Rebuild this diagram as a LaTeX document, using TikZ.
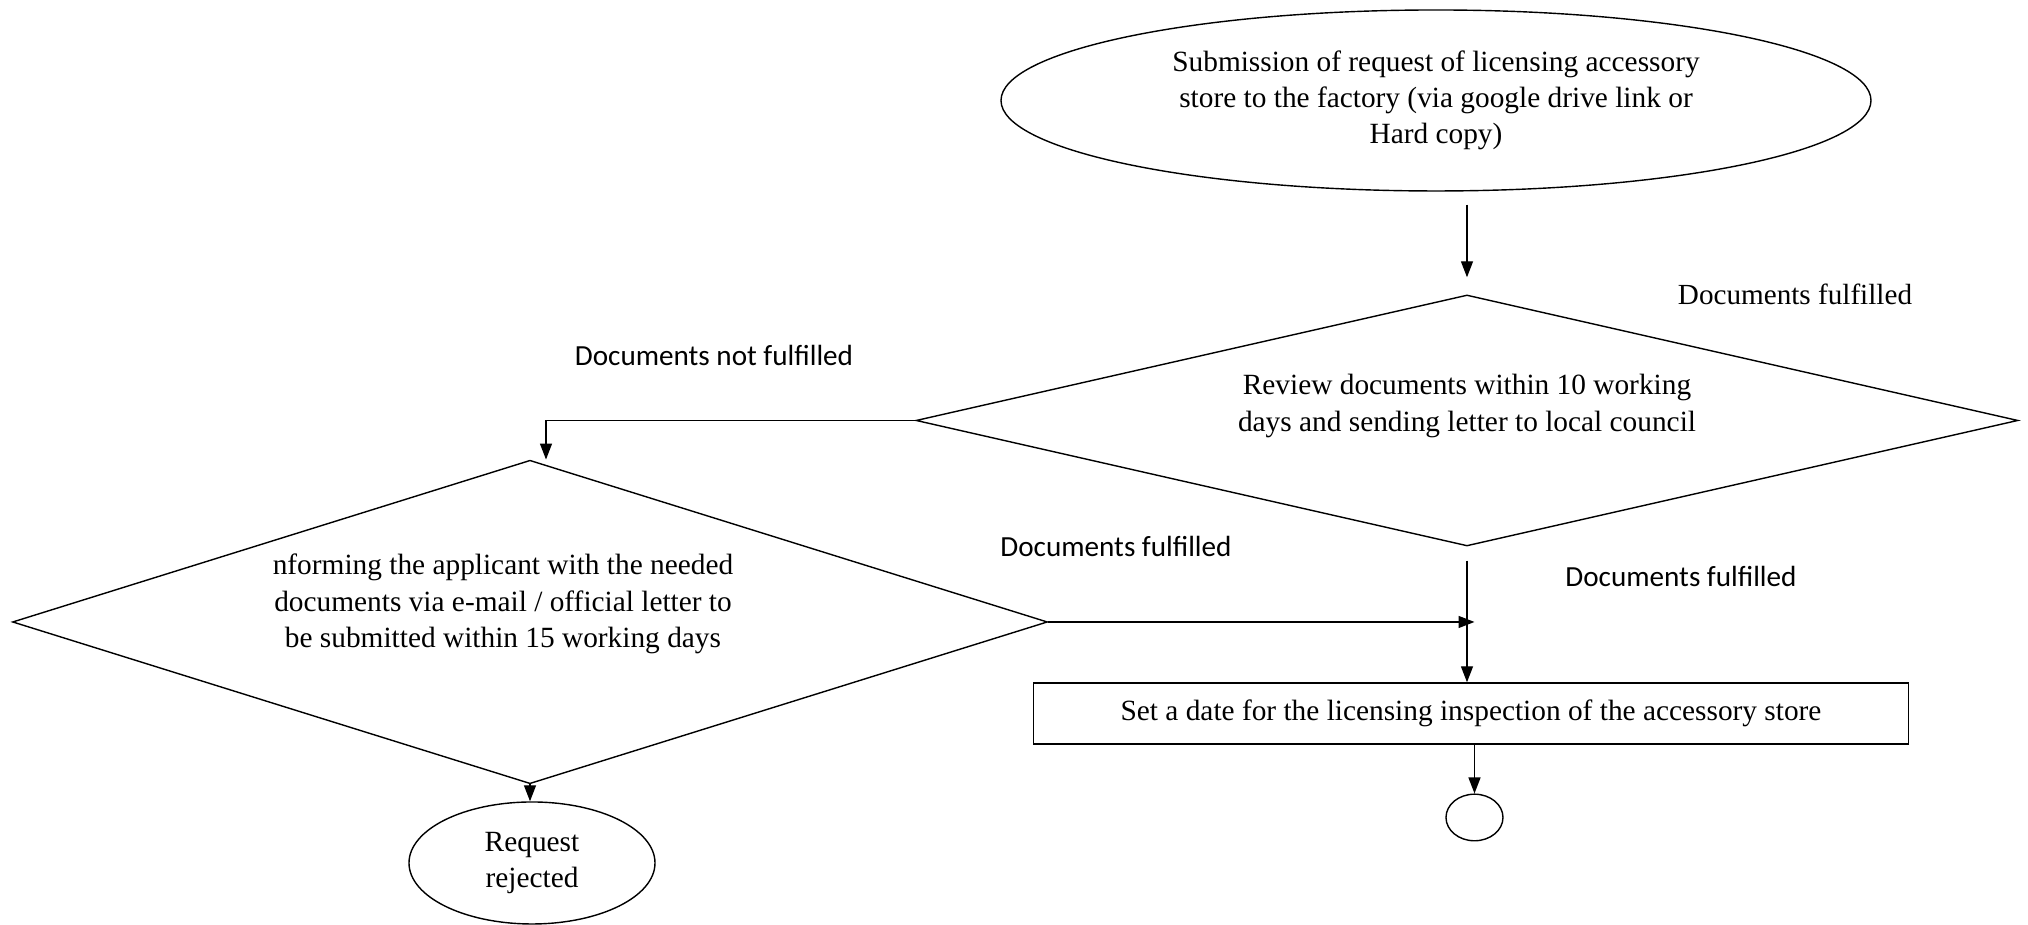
\documentclass[tikz,border=0pt]{standalone}
\usepackage{fontspec}
\setmainfont{Liberation Serif}
\newfontfamily\labelfont{Carlito}
\usetikzlibrary{shapes.geometric}
\usetikzlibrary{arrows.meta}
\tikzset{>={Triangle[length=1.6mm,width=1.2mm]}}
\tikzset{
	% shapes
	startstop/.style={draw,thin,ellipse,inner sep=0pt,align=center,font=\fontsize{8.35}{10.3}\selectfont},
	decision/.style={draw,thin,diamond,inner sep=0pt},
	process/.style={draw,thin,rectangle,inner sep=0pt,align=center,font=\fontsize{8.35}{10.3}\selectfont},
	% texts
	dtext/.style={align=center,font=\fontsize{8.35}{10.3}\selectfont},
	serifchoice/.style={font=\fontsize{8.3}{9.5}\selectfont},
	choice/.style={font=\labelfont\fontsize{8.3}{9.5}\selectfont},
}

\begin{document}
\begin{tikzpicture}
	\useasboundingbox (0,0) rectangle (20.28,9.25);
	
	\node[startstop,minimum width=8.7cm,minimum height=1.81cm] (submit) at (14.36,8.245) {Submission of request of licensing accessory\\store to the factory (via google drive link or\\Hard copy)};
	
	\node[decision,minimum width=11.02cm,minimum height=2.51cm] (review) at (14.67,5.045) {};
	\node[dtext] (reviewtxt) at (14.67,5.19) {Review documents within 10 working\\days and sending letter to local council};
	
	\node[decision,minimum width=10.35cm,minimum height=3.235cm] (inform) at (5.30,3.03) {};
	\node[dtext] (informtxt) at (5.03,3.21) {nforming the applicant with the needed\\documents via e-mail / official letter to\\be submitted within 15 working days};
	
	\node[process,minimum width=8.745cm,minimum height=0.61cm] (date) at (14.71,2.115) {Set a date for the licensing inspection of the accessory store};
	
	\node[startstop,minimum width=2.46cm,minimum height=1.22cm] (reject) at (5.32,0.62) {Request\\rejected};
	\node[startstop,minimum width=0.57cm,minimum height=0.466cm] (finish) at (14.745,1.075) {};
	
	% labels
	\node[serifchoice] (yes1) at (17.95,6.31) {Documents fulfilled};
	\node[choice] (no1) at (7.14,5.69) {Documents not fulfilled};
	\node[choice] (yes2) at (11.16,3.78) {Documents fulfilled};
	\node[choice] (yes3) at (16.81,3.48) {Documents fulfilled};
	
	% arrows
	\draw[thin,->] ([yshift=-0.13cm]submit.south -| review.north) -- ([yshift=0.17cm]review.north);
	\draw[thin,->] (review.west) -| ([xshift=0.16cm]inform.north);
	\draw[thin,->] (inform.east) -- ([xshift=0.075cm]review.south |- inform.east);
	\draw[thin,->] ([yshift=-0.14cm]review.south) -- (review.south |- date.north);
	\draw[thin,->] (date.south -| finish.north) -- (finish.north);
	\draw[thin,->] (inform.south) -- (inform.south |- reject.north);
	
\end{tikzpicture}
\end{document}
